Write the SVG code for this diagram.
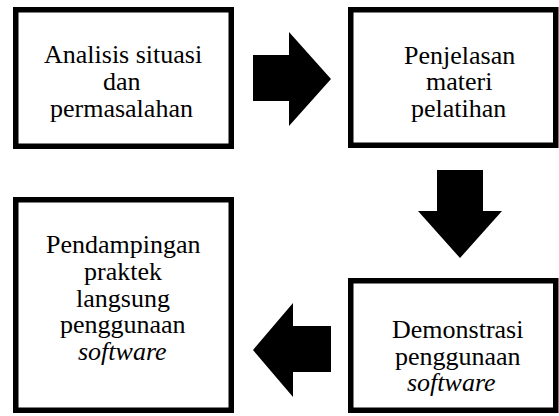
<svg xmlns="http://www.w3.org/2000/svg" width="559" height="416" viewBox="0 0 559 416">
<rect width="559" height="416" fill="#fff"/>
<g id="node-analisis">
<rect x="15.75" y="9.75" width="215.5" height="136.5" fill="#fff" stroke="#000" stroke-width="5.5"/>
<text x="44" y="63" font-family="Liberation Serif" font-size="26">Analisis situasi</text>
<text x="103" y="90" font-family="Liberation Serif" font-size="26">dan</text>
<text x="50" y="117" font-family="Liberation Serif" font-size="26">permasalahan</text>
</g>
<g id="node-penjelasan">
<rect x="350.75" y="9.75" width="205" height="135.5" fill="#fff" stroke="#000" stroke-width="5.5"/>
<text x="404" y="64" font-family="Liberation Serif" font-size="26">Penjelasan</text>
<text x="426" y="90" font-family="Liberation Serif" font-size="26">materi</text>
<text x="411" y="117" font-family="Liberation Serif" font-size="26">pelatihan</text>
</g>
<g id="node-demonstrasi">
<rect x="350.75" y="280.75" width="205" height="129.5" fill="#fff" stroke="#000" stroke-width="5.5"/>
<text x="392" y="338" font-family="Liberation Serif" font-size="26">Demonstrasi</text>
<text x="395" y="365" font-family="Liberation Serif" font-size="26">penggunaan</text>
<text x="407" y="391" font-family="Liberation Serif" font-size="26" font-style="italic">software</text>
</g>
<g id="node-pendampingan">
<rect x="15.75" y="199.75" width="215.5" height="210.5" fill="#fff" stroke="#000" stroke-width="5.5"/>
<text x="46" y="253" font-family="Liberation Serif" font-size="26">Pendampingan</text>
<text x="84" y="280" font-family="Liberation Serif" font-size="26">praktek</text>
<text x="76" y="307" font-family="Liberation Serif" font-size="26">langsung</text>
<text x="60" y="333" font-family="Liberation Serif" font-size="26">penggunaan</text>
<text x="78" y="360" font-family="Liberation Serif" font-size="26" font-style="italic">software</text>
</g>
<g id="connectors" fill="#000">
<polygon points="253,55 289,55 289,32 331,79 289,126 289,101 253,101"/>
<polygon points="437,170 483,170 483,211 502,211 460,258 418,211 437,211"/>
<polygon points="331,326 293,326 293,303 253,350 293,397 293,372 331,372"/>
</g>
</svg>
